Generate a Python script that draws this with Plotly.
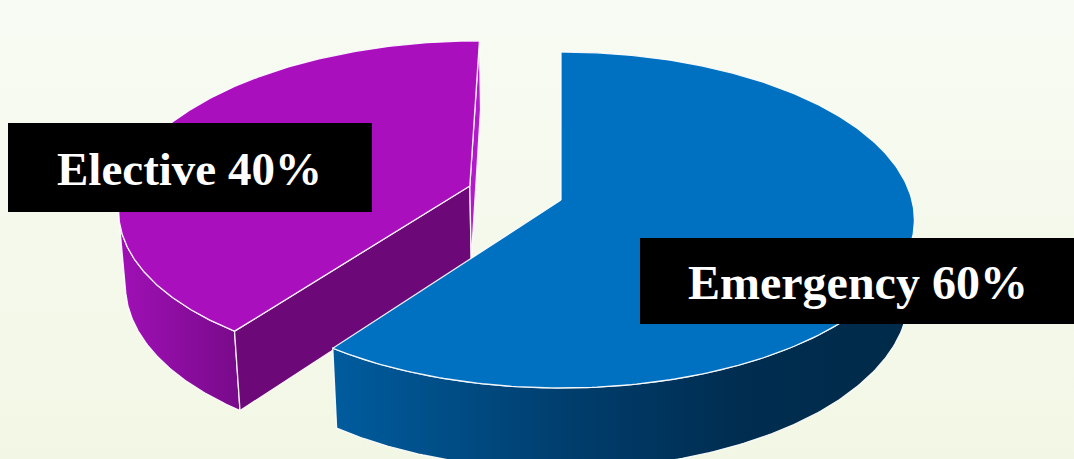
import numpy as np
import plotly.graph_objects as go

# ---- data ----
categories = ["Emergency", "Elective"]
values = [60, 40]
label_text = ["Emergency 60%", "Elective 40%"]

# ---- style ----
pulls = [0.0, 0.276]
top_colors = ["#0070c0", "#aa0fbe"]
side_scales = [
    [[0, "#005c9e"], [0.4, "#003e6e"], [0.7, "#002d50"], [1, "#002a48"]],
    [[0, "#a010b6"], [1, "#780a8a"]],
]
cut_colors = ["#00416f", "#6c0878"]
start_angle = 90.0

W, Hh = 1074, 459
OX, OY = 561, 200  # pixel position of projection origin

# perspective camera
f = 2600.0
D = 7.41
s_a, c_a = 0.472, 0.882
H = 0.245
cam = np.array([0.0, -D * c_a])  # camera (X, Z) on disc plane


def proj(X, Z, h):
    depth = D + Z * c_a - h * s_a
    return f * X / depth, f * (Z * s_a + h * c_a) / depth


def px(x):
    return x - OX


def py(y):
    return OY - y


fig = go.Figure()

# background gradient panel
fig.add_trace(go.Scatter(
    x=[px(0), px(W), px(W), px(0), px(0)],
    y=[py(0), py(0), py(Hh), py(Hh), py(0)],
    mode="lines", line=dict(width=0), fill="toself",
    fillgradient=dict(type="vertical", colorscale=[[0, "#f2f7e5"], [1, "#f8fbf3"]],
                      start=py(Hh), stop=py(0)),
    hoverinfo="skip", showlegend=False))

total = float(sum(values))
cum = np.concatenate([[0], np.cumsum(values)]) / total * 360.0
slices = []
for i, v in enumerate(values):
    a = start_angle - cum[i]
    b = start_angle - cum[i + 1]
    mid = np.radians((a + b) / 2)
    cx, cz = pulls[i] * np.cos(mid), pulls[i] * np.sin(mid)
    slices.append((i, a, b, cx, cz))

# draw the farther slice first
order = sorted(slices, key=lambda s: -s[4])

edge = dict(color="rgba(255,255,255,0.9)", width=1.3)

for (i, a, b, cx, cz) in order:
    phis = np.radians(np.linspace(a, b, 300))
    # outer curved side (front-facing part only)
    PX = cx + np.cos(phis)
    PZ = cz + np.sin(phis)
    vis = (cam[0] - PX) * np.cos(phis) + (cam[1] - PZ) * np.sin(phis) > 0
    if vis.any():
        idx = np.where(vis)[0]
        ph = phis[idx[0]:idx[-1] + 1]
        X = cx + np.cos(ph)
        Z = cz + np.sin(ph)
        tx, ty = proj(X, Z, 0.0)
        bx, by = proj(X, Z, -H)
        xs = np.concatenate([tx, bx[::-1], tx[:1]])
        ys = np.concatenate([ty, by[::-1], ty[:1]])
        fig.add_trace(go.Scatter(
            x=xs, y=ys, mode="lines", line=edge, fill="toself",
            fillgradient=dict(type="horizontal", colorscale=side_scales[i],
                              start=float(xs.min()), stop=float(xs.max())),
            hoverinfo="skip", showlegend=False))
    # radial cut faces
    for ang, nsign in ((a, 1), (b, -1)):
        r = np.radians(ang)
        nang = r + nsign * np.pi / 2
        n = np.array([np.cos(nang), np.sin(nang)])
        d = (cam - np.array([cx, cz])) @ n
        if d > 1e-6:
            ex, ez = cx + np.cos(r), cz + np.sin(r)
            pts = [(cx, cz, 0), (ex, ez, 0), (ex, ez, -H), (cx, cz, -H), (cx, cz, 0)]
            xs, ys = zip(*[proj(*p) for p in pts])
            col = cut_colors[i] if nsign == 1 else "#b41acb"
            fig.add_trace(go.Scatter(
                x=xs, y=ys, mode="lines", line=edge, fill="toself", fillcolor=col,
                hoverinfo="skip", showlegend=False))
    # top face
    X = np.concatenate([[cx], cx + np.cos(phis), [cx]])
    Z = np.concatenate([[cz], cz + np.sin(phis), [cz]])
    tx, ty = proj(X, Z, 0.0)
    fig.add_trace(go.Scatter(
        x=tx, y=ty, mode="lines", line=edge, fill="toself", fillcolor=top_colors[i],
        name=categories[i], hoverinfo="name", showlegend=False))

# label boxes
boxes = {"Elective": (8, 123, 372, 212, 189, 169, 47),
         "Emergency": (640, 238, 1074, 324, 858, 282, 48)}
for i, cat in enumerate(categories):
    x0, y0, x1, y1, tx_, ty_, fs = boxes[cat]
    fig.add_shape(type="rect", x0=px(x0), x1=px(x1), y0=py(y0), y1=py(y1),
                  fillcolor="#000000", line=dict(width=0), layer="above")
    fig.add_annotation(x=px(tx_), y=py(ty_), text="<b>%s</b>" % label_text[i],
                       showarrow=False, xanchor="center", yanchor="middle",
                       font=dict(family="Liberation Serif, Times New Roman, serif",
                                 size=fs, color="#ffffff"))

fig.update_layout(
    width=W, height=Hh, margin=dict(l=0, r=0, t=0, b=0),
    paper_bgcolor="#f6f9ee", plot_bgcolor="#f6f9ee",
    xaxis=dict(range=[px(0), px(W)], visible=False, fixedrange=True),
    yaxis=dict(range=[py(Hh), py(0)], visible=False, fixedrange=True),
    showlegend=False,
)
fig.write_html("out.html")
